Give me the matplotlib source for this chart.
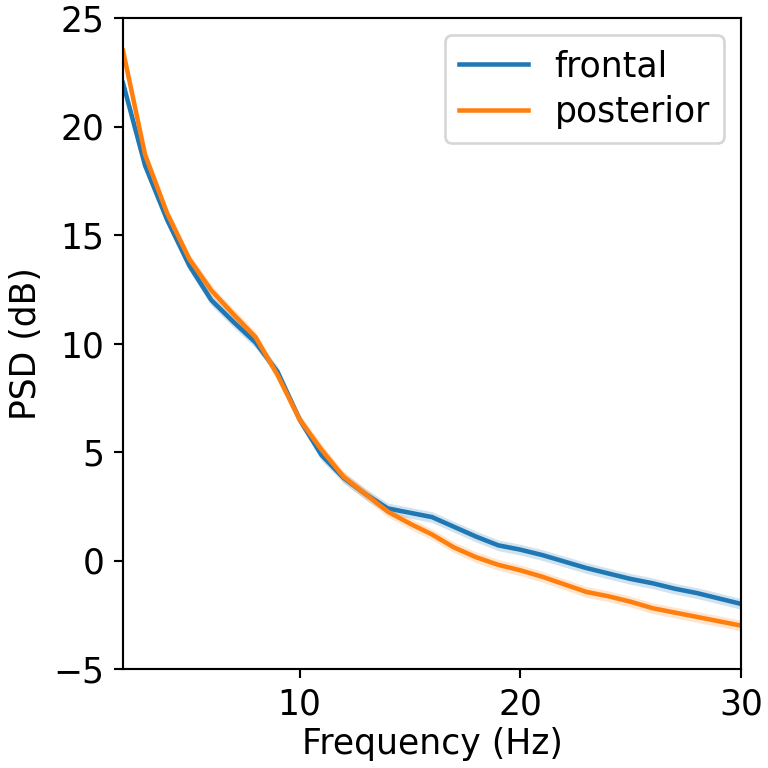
import numpy as np
import matplotlib
matplotlib.use("Agg")
import matplotlib.pyplot as plt

freqs = list(range(2, 31))
frontal = [22.0, 18.2, 15.7, 13.6, 12.0, 11.0, 10.05, 8.7, 6.5, 4.85, 3.8, 3.05,
           2.4, 2.2, 2.0, 1.55, 1.1, 0.7, 0.5, 0.25, -0.05, -0.35, -0.6, -0.85,
           -1.05, -1.3, -1.5, -1.75, -2.0]
posterior = [23.5, 18.7, 16.0, 13.9, 12.45, 11.35, 10.3, 8.55, 6.5, 5.1, 3.85, 3.05,
             2.25, 1.7, 1.2, 0.6, 0.15, -0.2, -0.45, -0.75, -1.1, -1.45, -1.65, -1.9,
             -2.2, -2.4, -2.6, -2.8, -3.0]
frontal_sem = [0.25] * len(freqs)
posterior_sem = [0.25] * len(freqs)

fig = plt.figure(figsize=(4, 4), dpi=192)
ax = fig.add_axes([123/768, 1 - 669/768, (741-123)/768, (669-18)/768])

f = np.array(freqs)
for vals, sem, label, color in [(frontal, frontal_sem, "frontal", "#1f77b4"),
                                (posterior, posterior_sem, "posterior", "#ff7f0e")]:
    v = np.array(vals); s = np.array(sem)
    ax.plot(f, v, color=color, label=label, lw=1.7)
    ax.fill_between(f, v - s, v + s, color=color, alpha=0.2, lw=0)

ax.set_xlim(2, 30)
ax.set_ylim(-5, 25)
ax.set_xticks([10, 20, 30])
ax.set_yticks([-5, 0, 5, 10, 15, 20, 25])
ax.set_xlabel("Frequency (Hz)", fontsize=13, labelpad=2)
ax.set_ylabel("PSD (dB)", fontsize=13, labelpad=4)
ax.tick_params(labelsize=13)
ax.legend(loc="upper right", fontsize=13, handlelength=2.0, handletextpad=0.75,
          labelspacing=0.35)

fig.savefig("out.png", dpi=192)
